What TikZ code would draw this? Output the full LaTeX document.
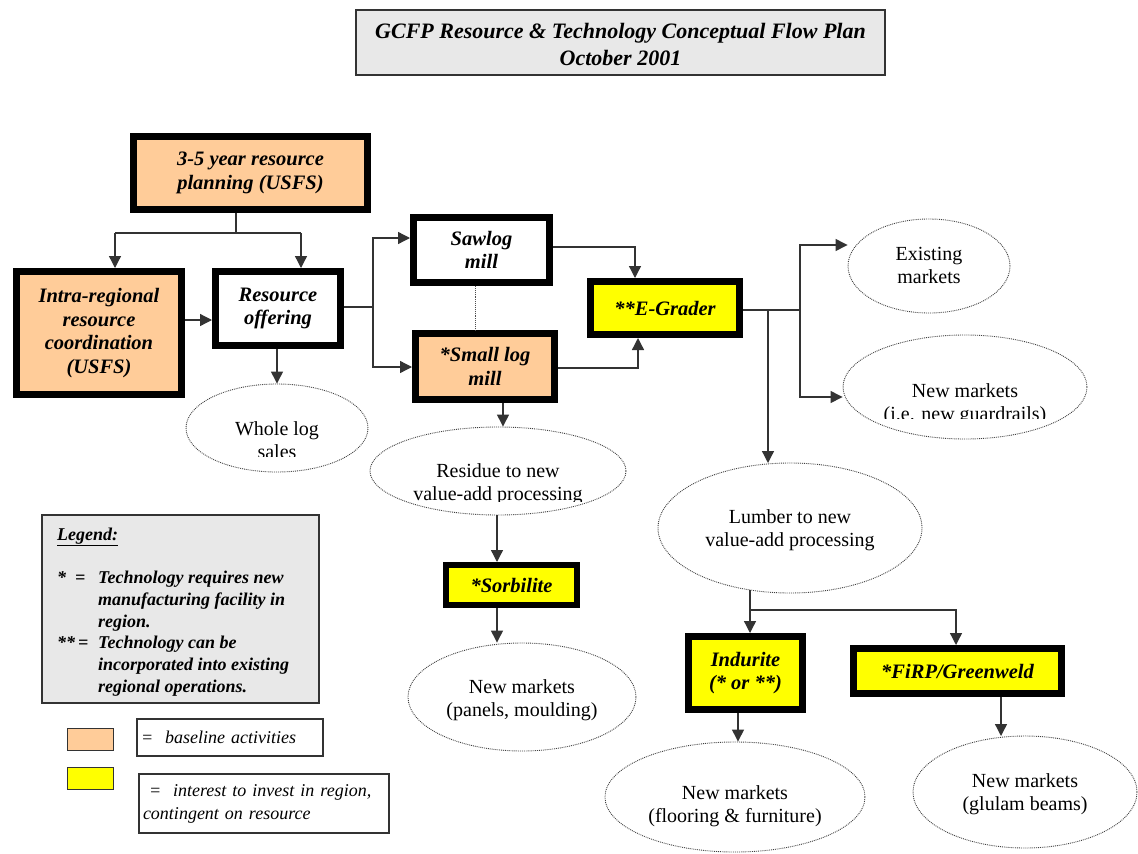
\documentclass[tikz,border=0pt]{standalone}
\usepackage{fontspec}
\setmainfont{Liberation Serif}
\usetikzlibrary{shapes.geometric,arrows.meta}
\definecolor{orangeC}{HTML}{FFCC99}
\definecolor{yellowC}{HTML}{FFFF00}
\definecolor{grayC}{HTML}{E8E8E8}
\newcommand\bxf{\fontsize{20.5}{23.5}\selectfont\bfseries\itshape}
\newcommand\ttlf{\fontsize{22}{27}\selectfont\bfseries\itshape}
\newcommand\elf{\fontsize{20}{23}\selectfont}
\newcommand\lgf{\fontsize{18}{21.7}\selectfont\bfseries\itshape}
\newcommand\swf{\fontsize{18}{23}\selectfont\itshape}
\begin{document}
\begin{tikzpicture}[x=1pt,y=-1pt,
  conn/.style={draw=black!80,line width=1.3},
  arr/.style={conn,-{Triangle[width=12pt,length=12pt]}},
  tbox/.style={draw=black,line width=7,font=\bxf,align=center,inner sep=0},
  ell/.style={ellipse,draw=black!75,densely dotted,line width=0.9,inner sep=0},
  elt/.style={font=\elf,align=center,inner sep=0}]
\useasboundingbox (0,0) rectangle (1138,854);
% title
\node[draw=black!80,line width=1.2,fill=grayC,minimum width=529,minimum height=65,inner sep=0] (title) at (620.5,42.5) {};
\node[font=\ttlf,align=center,inner sep=0] (titleT) at (620.5,44.5) {GCFP Resource \& Technology Conceptual Flow Plan\\October 2001};
% boxes
\node[tbox,fill=orangeC,minimum width=234,minimum height=73] (plan) at (250.5,173) {3-5 year resource\\planning (USFS)};
\node[tbox,fill=orangeC,minimum width=165,minimum height=123] (intra) at (99,333) {Intra-regional\\resource\\coordination\\(USFS)};
\node[tbox,fill=white,minimum width=125,minimum height=74] (offer) at (278,308.5) {Resource\\offering};
\node[tbox,fill=white,minimum width=136,minimum height=65] (sawlog) at (481.5,250) {Sawlog\\mill};
\node[tbox,fill=orangeC,minimum width=139,minimum height=66] (small) at (485,366.5) {*Small log\\mill};
\node[tbox,fill=yellowC,minimum width=149,minimum height=53] (egrader) at (665,308) {**E-Grader};
\node[tbox,fill=yellowC,line width=6,minimum width=131,minimum height=40] (sorb) at (511.5,585) {*Sorbilite};
\node[tbox,fill=yellowC,minimum width=114,minimum height=73] (indurite) at (745.5,673) {Indurite\\(* or **)};
\node[tbox,fill=yellowC,minimum width=208,minimum height=45] (firp) at (957.5,671) {*FiRP/Greenweld};
% ellipses
\node[ell,minimum width=182,minimum height=88] (whole) at (277,428) {};
\begin{scope}\clip (180,400) rectangle (380,456.5);
\node[elt] (wholeT) at (277,440) {Whole log\\sales};
\end{scope}
\node[ell,minimum width=256,minimum height=88] (residue) at (498,471) {};
\begin{scope}\clip (370,440) rectangle (630,501);
\node[elt] (residueT) at (498,484) {Residue to new\\value-add processing};
\end{scope}
\node[ell,minimum width=162,minimum height=94] (existing) at (929,266) {};
\node[elt] (existingT) at (929,265.5) {Existing\\markets};
\node[ell,minimum width=244,minimum height=104] (newg) at (965,387) {};
\begin{scope}\clip (850,360) rectangle (1090,418);
\node[elt] (newgT) at (965,404) {New markets\\(i.e. new guardrails)};
\end{scope}
\node[ell,minimum width=264,minimum height=130] (lumber) at (790,528) {};
\node[elt] (lumberT) at (790,530.5) {Lumber to new\\value-add processing};
\node[ell,minimum width=228,minimum height=108] (panels) at (522,697) {};
\node[elt] (panelsT) at (522,700) {New markets\\(panels, moulding)};
\node[ell,minimum width=260,minimum height=110] (flooring) at (735,797) {};
\node[elt] (flooringT) at (735,806) {New markets\\(flooring \& furniture)};
\node[ell,minimum width=224,minimum height=112] (glulam) at (1025,792) {};
\node[elt] (glulamT) at (1025,794) {New markets\\(glulam beams)};
% connectors
\coordinate (j1) at (236,233);
\coordinate (j1a) at (115,233);
\coordinate (j1b) at (301,233);
\draw[conn] (plan.south -| j1) -- (j1);
\draw[conn] (j1a) -- (j1b);
\draw[arr] (j1a) -- (j1a |- intra.north);
\draw[arr] (j1b) -- (j1b |- offer.north);
\coordinate (y320) at (0,320);
\draw[arr] (intra.east |- y320) -- (offer.west |- y320);
\draw[arr] (offer.south -| whole.north) -- (whole.north);
\coordinate (j2) at (373,307);
\coordinate (j2t) at (373,238);
\coordinate (j2b) at (373,367);
\draw[conn] (offer.east |- j2) -- (j2);
\draw[arr] (j2) -- (j2t) -- (sawlog.west |- j2t);
\draw[arr] (j2) -- (j2b) -- (small.west |- j2b);
\coordinate (dx) at (475,0);
\draw[densely dotted,black!70,line width=0.9] (sawlog.south -| dx) -- (small.north -| dx);
\coordinate (j3) at (635,247);
\draw[arr] (sawlog.east |- j3) -- (j3) -- (j3 |- egrader.north);
\coordinate (j4) at (638,368);
\draw[arr] (small.east |- j4) -- (j4) -- (j4 |- egrader.south);
\coordinate (j5) at (800,310);
\coordinate (j5t) at (800,245);
\coordinate (j5b) at (800,397);
\draw[conn] (egrader.east |- j5) -- (j5);
\draw[arr] (j5) -- (j5t) -- (existing.west |- j5t);
\draw[arr] (j5) -- (j5b) -- (newg.west |- j5b);
\coordinate (j6) at (768,310);
\draw[arr] (j6) -- (768,463);
\coordinate (x503) at (503,0);
\draw[arr] (small.south -| x503) -- (x503 |- residue.north);
\coordinate (x497) at (497,0);
\draw[arr] (497,515) -- (sorb.north -| x497);
\draw[arr] (sorb.south -| x497) -- (x497 |- panels.north);
\coordinate (j7) at (750,610);
\coordinate (j7b) at (956,610);
\draw[conn] (750,590) -- (j7);
\draw[arr] (j7) -- (j7 |- indurite.north);
\draw[arr] (j7) -- (j7b) -- (j7b |- firp.north);
\coordinate (x738) at (738,0);
\draw[arr] (indurite.south -| x738) -- (x738 |- flooring.north);
\coordinate (x1001) at (1001,0);
\draw[arr] (firp.south -| x1001) -- (1001,736);
% legend
\node[draw=black!80,line width=1.2,fill=grayC,minimum width=277,minimum height=188,inner sep=0] (legbox) at (180.5,609) {};
\node[font=\lgf,anchor=west,inner sep=0] (legtitle) at (57,537) {\underline{Legend:}};
\node[font=\lgf,anchor=north west,align=left,inner sep=0] (legtxt) at (57,571) {\makebox[41pt][l]{*\ \ =}Technology requires new\\
\hspace*{41pt}manufacturing facility in\\
\hspace*{41pt}region.\\
\makebox[41pt][l]{**\,=}Technology can be\\
\hspace*{41pt}incorporated into existing\\
\hspace*{41pt}regional operations.};
\node[draw=black!80,line width=1,fill=orangeC,minimum width=46,minimum height=22,inner sep=0] (swO) at (90,739) {};
\node[draw=black!80,line width=1,fill=yellowC,minimum width=46,minimum height=22,inner sep=0] (swY) at (90,778) {};
\node[draw=black!80,line width=1.2,minimum width=186,minimum height=37,inner sep=0,text width=178,align=left,font=\swf] (lbO) at (230,737.5) {=\ \ baseline activities};
\node[draw=black!80,line width=1.2,minimum width=250,minimum height=59,inner sep=0,text width=242,align=left,font=\swf] (lbY) at (264,803.5) {\ =\ \ interest to invest in region,\\ contingent on resource};
\end{tikzpicture}
\end{document}
